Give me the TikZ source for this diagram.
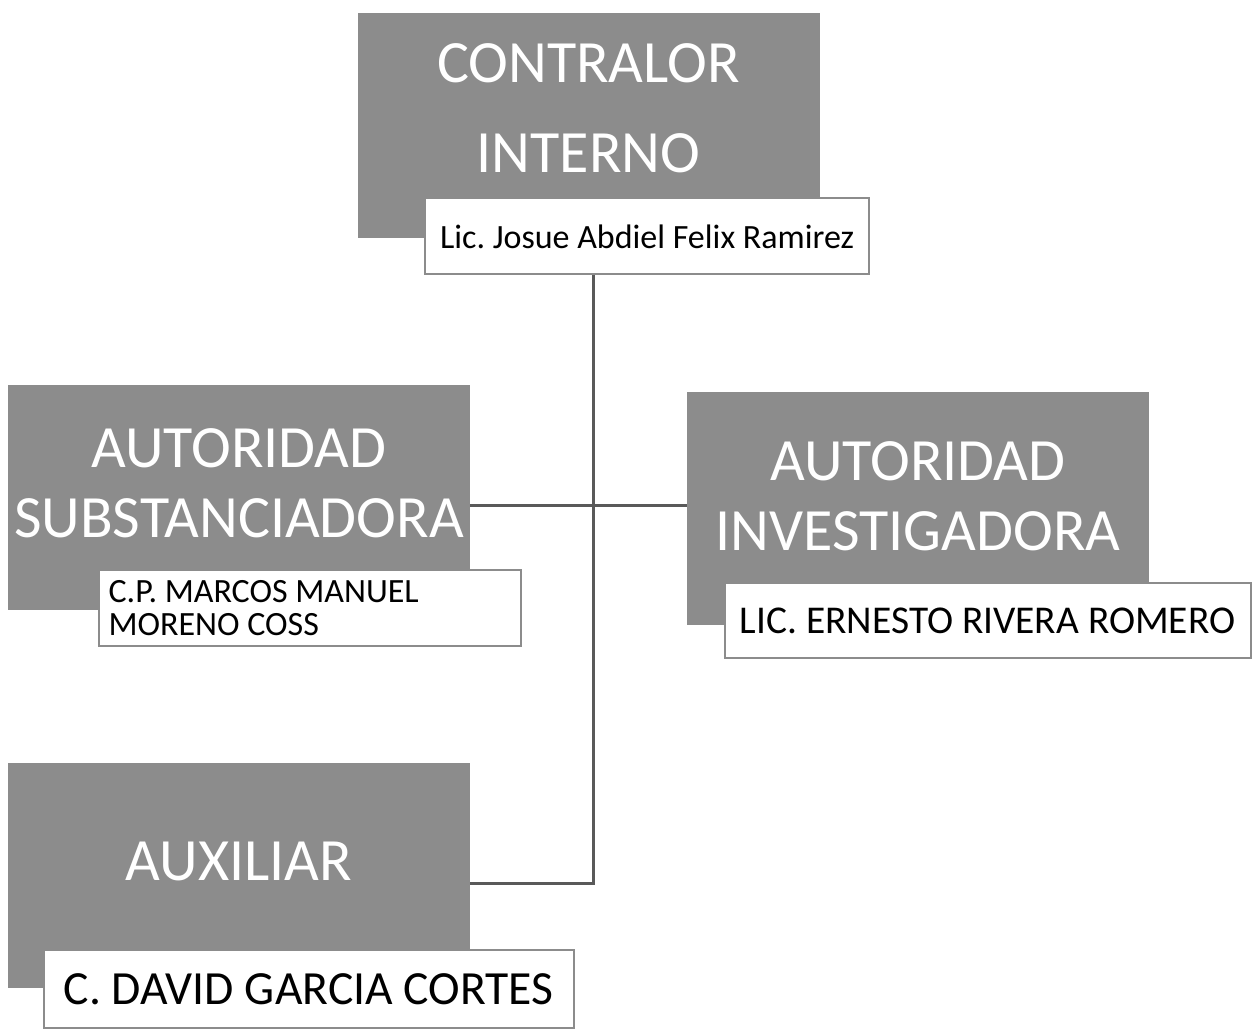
\documentclass[tikz,border=0pt]{standalone}
\usepackage{fontspec}
\setmainfont{Carlito}
\usetikzlibrary{positioning}
\definecolor{boxgray}{gray}{0.55}
\definecolor{linegray}{gray}{0.35}
\frenchspacing

\begin{document}
\begin{tikzpicture}[x=1pt, y=-1pt,
    unitbox/.style={fill=boxgray, inner sep=0pt, minimum width=231pt, minimum height=112.5pt},
    unittitle/.style={text=white, align=center, inner sep=0pt, font=\fontsize{30}{35}\selectfont},
    namebox/.style={draw=boxgray, line width=1pt, fill=white, inner sep=4pt, minimum height=38pt, anchor=north west},
    link/.style={draw=linegray, line width=1.5pt},
  ]
  \useasboundingbox (0,0) rectangle (629,516);

  % unit boxes
  \node[unitbox] (contralor) at (294.25,62.75) {};
  \node[unitbox] (subst) at (119.5,248.75) {};
  \node[unitbox, minimum height=116.5pt] (invest) at (459,254.25) {};
  \node[unitbox] (auxiliar) at (119.5,437.75) {};
  \coordinate (spine) at ([xshift=2.25pt]contralor.south);

  % connectors
  \draw[link] ([yshift=-4pt]subst.east) -- ([yshift=-4pt]subst.east -| invest.west);
  \draw[link] (spine) -- ([yshift=-4pt]auxiliar.east -| spine) -- ([yshift=-4pt]auxiliar.east);

  % titles
  \node[unittitle, font=\fontsize{30}{45}\selectfont] (contralorT) at ([yshift=8.5pt]contralor.center) {CONTRALOR\\INTERNO};
  \node[unittitle] (substT) at ([yshift=7pt]subst.center) {AUTORIDAD\\SUBSTANCIADORA};
  \node[unittitle] (investT) at ([yshift=6pt]invest.center) {AUTORIDAD\\INVESTIGADORA};
  \node[unittitle] (auxiliarT) at ([yshift=7pt]auxiliar.center) {AUXILIAR};

  % names
  \node[namebox, minimum width=222pt, font=\fontsize{17}{20}\selectfont] (contralorN)
    at ([xshift=33.5pt, yshift=20.5pt]contralor.south west) {Lic. Josue Abdiel Felix Ramirez};
  \node[namebox, text width=201pt, inner xsep=5pt, align=left, font=\fontsize{17}{16.5}\selectfont] (substN)
    at ([xshift=45pt, yshift=20.5pt]subst.south west) {\spaceskip=0pt\xspaceskip=0pt C.P. MARCOS MANUEL\\MORENO COSS};
  \node[namebox, minimum width=263pt, minimum height=37.5pt, font=\fontsize{19.7}{22}\selectfont] (investN)
    at ([xshift=18.5pt, yshift=21.5pt]invest.south west) {LIC. ERNESTO RIVERA ROMERO};
  \node[namebox, minimum width=265pt, minimum height=39pt, font=\fontsize{23.8}{26}\selectfont] (auxiliarN)
    at ([xshift=17.5pt, yshift=19.5pt]auxiliar.south west) {C. DAVID GARCIA CORTES};
\end{tikzpicture}
\end{document}
